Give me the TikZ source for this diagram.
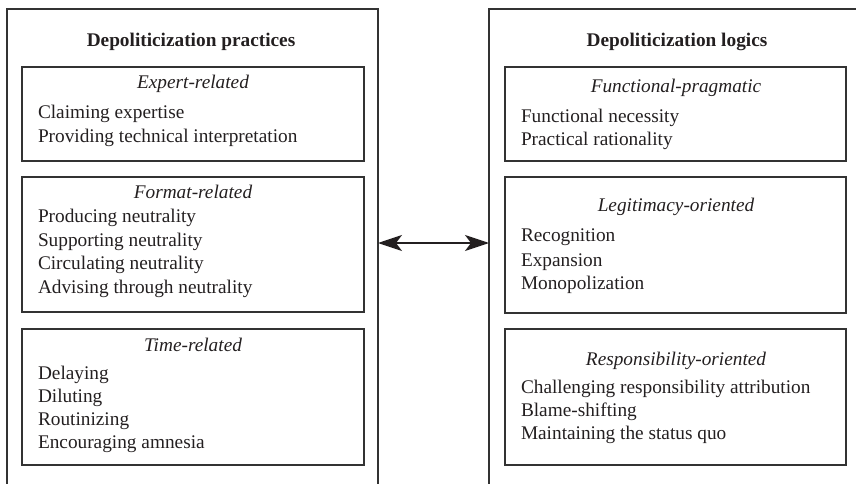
\documentclass[tikz,border=0pt]{standalone}
\usepackage{fontspec}
\setmainfont{Liberation Serif}
\usetikzlibrary{arrows.meta}
\definecolor{ink}{HTML}{231F20}
\definecolor{rule}{HTML}{333333}
\begin{document}
\begin{tikzpicture}[x=1pt,y=-1pt,
  outerbox/.style={draw=rule, line width=2pt, rectangle, inner sep=0pt, outer sep=0pt, anchor=north west},
  innerbox/.style={draw=rule, line width=1.4pt, rectangle, inner sep=0pt, outer sep=0pt, anchor=north west},
  txt/.style={anchor=base west, inner sep=0pt, outer sep=0pt, text=ink, font=\fontsize{19.3}{23}\selectfont},
  ttl/.style={anchor=base, inner sep=0pt, outer sep=0pt, text=ink, font=\fontsize{19.3}{23}\selectfont\itshape},
  head/.style={anchor=base, inner sep=0pt, outer sep=0pt, text=ink, font=\fontsize{19.3}{23}\selectfont\bfseries},
  biarrow/.style={draw=ink, line width=1.4pt, {Stealth[length=24pt,width=16pt,inset=6pt]}-{Stealth[length=24pt,width=16pt,inset=6pt]}}
]
\useasboundingbox (0,0) rectangle (856,484);
\clip (0,0) rectangle (856,484);

% outer panels (cut off by the page at right and bottom)
\node[outerbox, minimum width=371pt, minimum height=491pt] (L) at (7,9) {};
\node[outerbox, minimum width=381pt, minimum height=491pt] (R) at (489,9) {};

% inner boxes, left
\node[innerbox, minimum width=342pt, minimum height=94pt] (expert) at (22,67) {};
\node[innerbox, minimum width=342pt, minimum height=135pt] (format) at (22,177) {};
\node[innerbox, minimum width=342pt, minimum height=136pt] (time) at (22,329) {};
% inner boxes, right
\node[innerbox, minimum width=341pt, minimum height=94pt] (func) at (505,67) {};
\node[innerbox, minimum width=341pt, minimum height=136pt] (legit) at (505,177) {};
\node[innerbox, minimum width=341pt, minimum height=136pt] (resp) at (505,329) {};

% headings
\node[head] (hL) at (191,47) {Depoliticization practices};
\node[head] (hR) at (677,47) {Depoliticization logics};

% left texts
\node[ttl] (t1) at (193,89) {Expert-related};
\node[txt] (a1) at (38,119) {Claiming expertise};
\node[txt] (a2) at (38,142.5) {Providing technical interpretation};

\node[ttl] (t2) at (193,198) {Format-related};
\node[txt] (b1) at (38,222.5) {Producing neutrality};
\node[txt] (b2) at (38,246) {Supporting neutrality};
\node[txt] (b3) at (38,269.5) {Circulating neutrality};
\node[txt] (b4) at (38,293) {Advising through neutrality};

\node[ttl] (t3) at (193,351.5) {Time-related};
\node[txt] (c1) at (38,379) {Delaying};
\node[txt] (c2) at (38,402) {Diluting};
\node[txt] (c3) at (38,425) {Routinizing};
\node[txt] (c4) at (38,448.3) {Encouraging amnesia};

% right texts
\node[ttl] (t4) at (676,92.5) {Functional-pragmatic};
\node[txt] (d1) at (521,122.3) {Functional necessity};
\node[txt] (d2) at (521,145) {Practical rationality};

\node[ttl] (t5) at (676,211.7) {Legitimacy-oriented};
\node[txt] (e1) at (521,241.7) {Recognition};
\node[txt] (e2) at (521,266.5) {Expansion};
\node[txt] (e3) at (521,289.3) {Monopolization};

\node[ttl] (t6) at (676,365) {Responsibility-oriented};
\node[txt] (f1) at (521,393.3) {Challenging responsibility attribution};
\node[txt] (f2) at (521,416) {Blame-shifting};
\node[txt] (f3) at (521,439) {Maintaining the status quo};

% double arrow between the panels
\coordinate (ay) at (0,243);
\draw[biarrow] (L.east |- ay) -- (R.west |- ay);
\end{tikzpicture}
\end{document}
